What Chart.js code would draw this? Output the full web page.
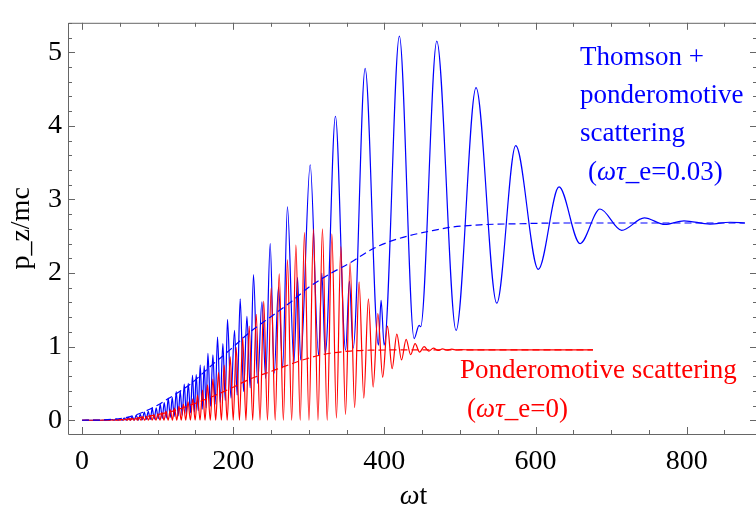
<!DOCTYPE html>
<html>
<head>
<meta charset="utf-8">
<script src="https://cdn.jsdelivr.net/npm/chart.js@4.4.1/dist/chart.umd.min.js"></script>
<style>
  html, body { margin: 0; padding: 0; background: #fff; overflow: hidden; }
  canvas { display: block; }
</style>
</head>
<body>
<canvas id="plot" width="758" height="518"></canvas>
<script>
// axis ticks
const xTicks = [0, 200, 400, 600, 800];
const yTicks = [0, 1, 2, 3, 4, 5];

// red curve (ponderomotive only) : peaks and troughs, [ωt, p_z/mc]
const redPeaks = [
  [29.5,0.003],[34.1,0.004],[38.7,0.005],[43.4,0.007],[48.0,0.009],[52.6,0.012],[57.3,0.015],[61.9,0.019],
  [66.5,0.024],[71.1,0.03],[75.8,0.036],[80.5,0.043],[85.4,0.052],[90.3,0.062],[95.3,0.074],[100.5,0.088],
  [105.8,0.104],[111.2,0.122],[116.8,0.142],[122.4,0.165],[128.3,0.19],[134.2,0.218],[140.3,0.25],[146.5,0.29],
  [152.8,0.34],[159.5,0.41],[166.1,0.48],[173.2,0.56],[180.6,0.65],[188.1,0.75],[196.1,0.86],[204.0,0.99],
  [212.6,1.13],[221.2,1.28],[230.5,1.44],[240.4,1.62],[250.3,1.80],[260.9,1.99],[271.8,2.18],[283.0,2.38],
  [294.3,2.55],[306.2,2.60],[318.1,2.60],[330.6,2.53],[342.5,2.36],[354.7,2.14],[366.6,1.88],[378.9,1.65],
  [391.4,1.45],[404.1,1.28],[416.5,1.17],[428.8,1.10],[440.7,1.04],[452.6,1.00],[464.9,0.98],[477.0,0.97],
  [489.2,0.965],[501.5,0.96]
];
const redTroughs = [
  [0,0],[25,0],[31.8,0],[36.4,0],[41.0,0],[45.7,0],[50.3,0],[55.0,0],[59.6,0],[64.2,0],[68.8,0],[73.5,0],
  [78.2,0],[83.0,0],[87.9,0],[92.8,0],[97.9,0],[103.2,0],[108.5,0],[114.0,0],[119.6,0],[125.4,0],[131.3,0],
  [137.3,0],[143.4,0],[149.7,0],[156.2,0],[162.8,0],[169.7,0],[176.9,0],[184.4,0],[192.1,0],[200.1,0],
  [208.3,0],[216.9,0],[225.9,0],[235.5,0],[245.4,0],[255.6,0],[266.4,0],[277.4,0],[288.7,0],[300.3,0],
  [312.2,0],[324.4,0],[336.6,0.03],[348.6,0.08],[360.7,0.17],[372.8,0.30],[385.2,0.45],[397.8,0.585],
  [410.3,0.70],[422.7,0.82],[434.8,0.89],[446.7,0.925],[458.8,0.94],[471.0,0.948],[483.1,0.952],[495.4,0.954]
];
const redTail = [[513,0.955],[676,0.955]];
const redMean = [
  [0,0],[24.3,0.003],[63.9,0.02],[90.3,0.06],[116.8,0.115],[143.2,0.205],[169.7,0.31],[196.1,0.43],
  [222.5,0.56],[249.0,0.66],[275.4,0.76],[301.9,0.85],[328.3,0.91],[354.7,0.94],[381.2,0.952],[420.9,0.955],[676,0.955]
];

// blue curve (Thomson + ponderomotive), big and small peaks, then damped tail
const bluePeaks = [
  [40.1,0.01],[45.4,0.015],[50.6,0.02],[55.9,0.03],[61.2,0.04],[66.5,0.05],[71.8,0.07],[77.1,0.08],
  [82.4,0.11],[87.7,0.12],[92.9,0.16],[98.2,0.17],[103.5,0.22],[108.8,0.24],[114.1,0.30],[119.4,0.31],
  [124.7,0.39],[130.0,0.40],[135.3,0.49],[140.6,0.50],[146.2,0.61],[151.1,0.62],[156.4,0.75],[161.7,0.74],
  [166.6,0.91],[173.2,0.89],[179.3,1.13],[186.4,1.04],[192.5,1.37],[201.8,1.22],[209.3,1.65],[218.2,1.41],
  [226.9,1.98],[238.0,1.61],[249.0,2.40],[260.0,1.81],[271.8,2.90],[285.1,1.94],[301.9,3.47],[317.3,2.00],
  [335.3,4.13],[353.8,1.89],[374.6,4.78],[395.7,1.63],[419.9,5.22],[446.0,1.29],[469.4,5.15],[521.3,4.52],
  [573.8,3.73],[631.1,3.17],[685.3,2.87],[743.9,2.75],[796.4,2.71],[857.2,2.69],[877,2.68]
];
const blueTroughs = [
  [0,0],[35,0],[42.7,0],[48.0,0],[53.3,0],[58.6,0],[63.9,0],[69.2,0],[74.4,0],[79.7,0.005],[85.0,0.01],
  [90.3,0.01],[95.6,0.015],[100.9,0.02],[106.2,0.025],[111.5,0.03],[116.8,0.04],[122.0,0.05],[127.3,0.06],
  [132.6,0.07],[137.9,0.085],[143.5,0.10],[148.7,0.11],[153.8,0.13],[159.1,0.15],[164.2,0.17],[169.9,0.19],
  [176.2,0.22],[182.9,0.24],[189.5,0.27],[197.1,0.30],[205.3,0.34],[213.8,0.39],[222.5,0.44],[232.4,0.50],
  [243.0,0.57],[254.3,0.64],[265.5,0.71],[280.4,0.78],[289.3,0.82],[313.1,0.88],[321.8,0.90],[348.8,0.95],
  [358.7,0.98],[392.2,1.02],[399.7,1.02],[439.4,1.11],[448.0,1.27],[494.9,1.22],[548.7,1.59],[603.7,2.05],
  [658.9,2.40],[714.0,2.58],[771.2,2.66],[830.8,2.665]
];
const blueMean = [
  [0,0],[24.3,0.003],[63.9,0.05],[90.3,0.153],[116.8,0.31],[143.2,0.49],[169.7,0.73],[196.1,0.96],
  [222.5,1.20],[249.0,1.40],[275.4,1.60],[301.9,1.82],[328.3,1.99],[354.7,2.14],[381.2,2.31],[407.6,2.43],
  [434.1,2.51],[460.5,2.57],[487.0,2.62],[526.6,2.655],[579.5,2.67],[632.4,2.68],[877,2.68]
];

function merge(...lists) {
  return lists.flat().sort((a, b) => a[0] - b[0]).map(([x, y]) => ({ x, y }));
}

const BLUE = '#0000ff';
const RED = '#ff0000';
const SERIF = "'Liberation Serif', 'DejaVu Serif', serif";

// draw a line of text where some pieces are italic
function richText(ctx, x, y, parts, color, size) {
  ctx.fillStyle = color;
  ctx.textBaseline = 'alphabetic';
  ctx.textAlign = 'left';
  parts.forEach(([t, it]) => {
    ctx.font = (it ? 'italic ' : '') + size + 'px ' + SERIF;
    ctx.fillText(t, x, y);
    x += ctx.measureText(t).width;
  });
}
function richWidth(ctx, parts, size) {
  let w = 0;
  parts.forEach(([t, it]) => {
    ctx.font = (it ? 'italic ' : '') + size + 'px ' + SERIF;
    w += ctx.measureText(t).width;
  });
  return w;
}

// frame with inward ticks on all four sides, plus labels
const framePlugin = {
  id: 'frame',
  afterDraw(chart) {
    const { ctx, chartArea: a, scales } = chart;
    const xs = scales.x, ys = scales.y;
    ctx.save();
    ctx.strokeStyle = '#666';
    ctx.lineWidth = 1;
    ctx.beginPath();
    ctx.rect(a.left + 0.5, a.top + 0.5, a.right - a.left, a.bottom - a.top);
    ctx.stroke();
    ctx.beginPath();
    for (let v = 0; v <= 850; v += 50) {
      const px = Math.round(xs.getPixelForValue(v)) + 0.5;
      const len = v % 200 === 0 ? 7 : 4;
      ctx.moveTo(px, a.bottom); ctx.lineTo(px, a.bottom - len);
      ctx.moveTo(px, a.top); ctx.lineTo(px, a.top + len);
    }
    for (let i = 0; i <= 27; i++) {
      const v = i * 0.2;
      const py = Math.round(ys.getPixelForValue(v)) + 0.5;
      const len = i % 5 === 0 ? 7 : 4;
      ctx.moveTo(a.left, py); ctx.lineTo(a.left + len, py);
      ctx.moveTo(a.right, py); ctx.lineTo(a.right - len, py);
    }
    ctx.stroke();

    // x axis title
    const xt = [['ω', true], ['t', false]];
    richText(ctx, (a.left + 755) / 2 - richWidth(ctx, xt, 28) / 2 + 2, 504, xt, '#000', 28);

    // annotations
    richText(ctx, 580, 65, [['Thomson +', false]], BLUE, 27);
    richText(ctx, 580, 103, [['ponderomotive', false]], BLUE, 27);
    richText(ctx, 580, 141, [['scattering', false]], BLUE, 27);
    richText(ctx, 588, 180, [['(', false], ['ωτ', true], ['_e=0.03)', false]], BLUE, 27);
    richText(ctx, 460, 378, [['Ponderomotive scattering', false]], RED, 27);
    richText(ctx, 467, 417, [['(', false], ['ωτ', true], ['_e=0)', false]], RED, 27);
    ctx.restore();
  }
};

const lineStyle = {
  pointRadius: 0,
  borderWidth: 1.2,
  fill: false,
  tension: 0.4,
  cubicInterpolationMode: 'monotone'
};

new Chart(document.getElementById('plot'), {
  type: 'line',
  data: {
    datasets: [
      { ...lineStyle, label: 'blue mean', data: merge(blueMean), borderColor: BLUE, borderDash: [7, 4] },
      { ...lineStyle, label: 'red mean', data: merge(redMean), borderColor: RED, borderDash: [7, 4] },
      { ...lineStyle, label: 'ponderomotive', data: merge(redPeaks, redTroughs, redTail), borderColor: RED },
      { ...lineStyle, label: 'thomson', data: merge(bluePeaks, blueTroughs), borderColor: BLUE }
    ]
  },
  options: {
    responsive: false,
    animation: false,
    devicePixelRatio: 1,
    layout: { padding: { top: 7, right: 1, left: 0, bottom: 0 } },
    plugins: { legend: { display: false }, tooltip: { enabled: false } },
    scales: {
      x: {
        type: 'linear',
        min: -18.5,
        max: 893,
        afterBuildTicks: s => { s.ticks = xTicks.map(v => ({ value: v })); },
        afterFit: s => { s.height = 84; },
        grid: { display: false, drawTicks: false },
        border: { display: false },
        ticks: {
          color: '#000',
          font: { family: SERIF, size: 28 },
          padding: 11,
          maxRotation: 0,
          autoSkip: false
        }
      },
      y: {
        type: 'linear',
        min: -0.187,
        max: 5.4,
        afterBuildTicks: s => { s.ticks = yTicks.map(v => ({ value: v })); },
        afterFit: s => { s.width = 68; },
        grid: { display: false, drawTicks: false },
        border: { display: false },
        ticks: {
          color: '#000',
          font: { family: SERIF, size: 28 },
          padding: 6
        },
        title: {
          display: true,
          text: 'p_z/mc',
          color: '#000',
          font: { family: SERIF, size: 28 },
          padding: { top: 5, bottom: 0 }
        }
      }
    }
  },
  plugins: [framePlugin]
});
</script>
</body>
</html>
